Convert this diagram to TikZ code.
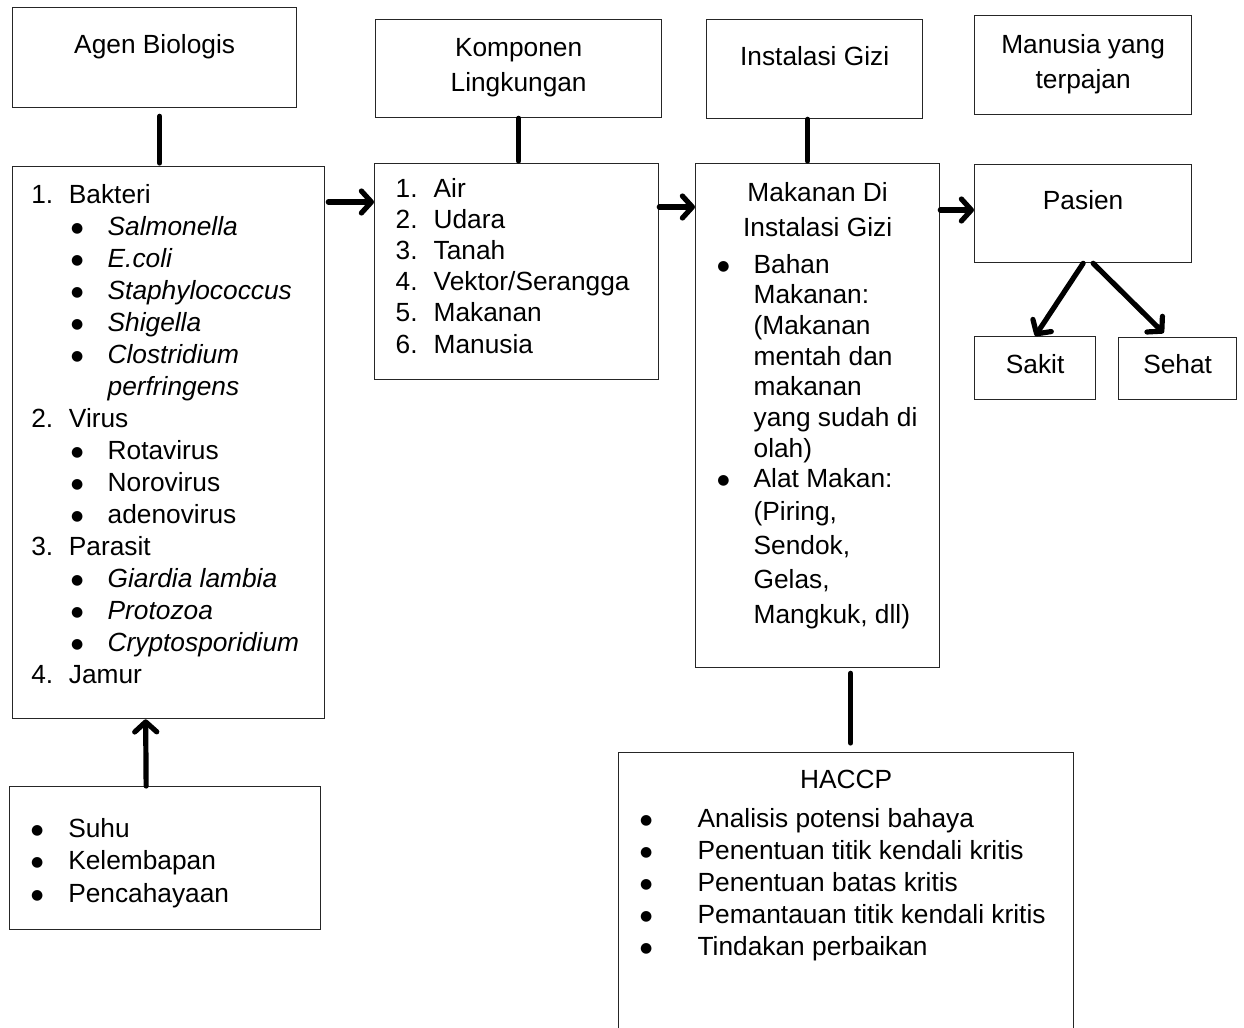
\documentclass[tikz,border=0pt]{standalone}
\usepackage{fontspec}
\setmainfont{Liberation Sans}
\newfontfamily\dotfont{DejaVu Sans}
\usepackage{tikz}
\usetikzlibrary{positioning,calc,arrows.meta}

% one list line: indent, label box width, label
\newcommand{\itm}[3]{\hspace*{#1}\makebox[#2][l]{#3}}
% list bullet
\newcommand{\bul}{\raisebox{1.5pt}{\dotfont\fontsize{7pt}{7pt}\selectfont ●}}
% box content: width, height, top gap, text
\newcommand{\boxtext}[4]{\parbox[c][#2][t]{#1}{\vspace*{#3}#4}}

\begin{document}
\begin{tikzpicture}[x=0.5pt,y=-0.5pt,
  box/.style={draw=black!85,line width=0.65pt,inner sep=0pt,anchor=north west,
    font=\fontsize{13.15pt}{16pt}\selectfont},
  link/.style={line width=2.6pt,line cap=round},
  arr/.style={link,-{Straight Barb[length=5pt,width=11pt,round]}}]
\useasboundingbox (0,0) rectangle (1244,1028);

% top row
\node[box] (agen) at (12,7) {\boxtext{142pt}{50pt}{11.5pt}{\centering\strut Agen Biologis}};
\node[box] (komponen) at (375,19) {\boxtext{143pt}{49pt}{7pt}{\centering\strut Komponen\\[1.5pt] Lingkungan}};
\node[box] (instalasi) at (706,19) {\boxtext{108pt}{49.5pt}{11.5pt}{\centering\strut Instalasi Gizi}};
\node[box] (manusia) at (974,15) {\boxtext{108.5pt}{49.5pt}{7.5pt}{\centering\strut Manusia yang\\[1.5pt] terpajan}};

% second row
\node[box] (bio) at (12,166) {\boxtext{156pt}{276pt}{7pt}{%
\strut\itm{9.35pt}{18.8pt}{1.}Bakteri\par
\itm{29.2pt}{18.3pt}{\bul}\textit{Salmonella}\par
\itm{29.2pt}{18.3pt}{\bul}\textit{E.coli}\par
\itm{29.2pt}{18.3pt}{\bul}\textit{Staphylococcus}\par
\itm{29.2pt}{18.3pt}{\bul}\textit{Shigella}\par
\itm{29.2pt}{18.3pt}{\bul}\textit{Clostridium}\par
\hspace*{47.5pt}\textit{perfringens}\par
\itm{9.35pt}{18.8pt}{2.}Virus\par
\itm{29.2pt}{18.3pt}{\bul}Rotavirus\par
\itm{29.2pt}{18.3pt}{\bul}Norovirus\par
\itm{29.2pt}{18.3pt}{\bul}adenovirus\par
\itm{9.35pt}{18.8pt}{3.}Parasit\par
\itm{29.2pt}{18.3pt}{\bul}\textit{Giardia lambia}\par
\itm{29.2pt}{18.3pt}{\bul}\textit{Protozoa}\par
\itm{29.2pt}{18.3pt}{\bul}\textit{Cryptosporidium}\par
\itm{9.35pt}{18.8pt}{4.}Jamur\par}};

\node[box] (ling) at (374,163) {\boxtext{142pt}{108pt}{5.8pt}{\fontsize{13.15pt}{15.6pt}\selectfont
\strut\itm{10.5pt}{19pt}{1.}Air\par
\itm{10.5pt}{19pt}{2.}Udara\par
\itm{10.5pt}{19pt}{3.}Tanah\par
\itm{10.5pt}{19pt}{4.}Vektor/Serangga\par
\itm{10.5pt}{19pt}{5.}Makanan\par
\itm{10.5pt}{19pt}{6.}Manusia\par}};

\node[box] (makanan) at (695,163) {\boxtext{122pt}{252pt}{7.95pt}{\fontsize{13.15pt}{15.35pt}\selectfont
{\centering\strut Makanan Di\\[2.15pt] Instalasi Gizi\par}
\vspace{3.15pt}
\itm{10.8pt}{18.2pt}{\bul}Bahan\par
\hspace*{29pt}Makanan:\par
\hspace*{29pt}(Makanan\par
\hspace*{29pt}mentah dan\par
\hspace*{29pt}makanan\par
\hspace*{29pt}yang sudah di\par
\hspace*{29pt}olah)\par
\itm{10.8pt}{18.2pt}{\bul}Alat Makan:\par
\vspace{1.15pt}\hspace*{29pt}(Piring,\par
\vspace{1.65pt}\hspace*{29pt}Sendok,\par
\vspace{1.65pt}\hspace*{29pt}Gelas,\par
\vspace{2.15pt}\hspace*{29pt}Mangkuk, dll)\par}};

\node[box] (pasien) at (974,164) {\boxtext{108.5pt}{49pt}{11pt}{\centering\strut Pasien}};
\node[box] (sakit) at (974,336) {\boxtext{60.5pt}{31.5pt}{7pt}{\centering\strut Sakit}};
\node[box] (sehat) at (1118,337) {\boxtext{59pt}{31pt}{6.5pt}{\centering\strut Sehat}};

% bottom row
\node[box] (faktor) at (9,786) {\boxtext{155.5pt}{71.5pt}{13.8pt}{\fontsize{13.15pt}{16.25pt}\selectfont
\strut\itm{10.7pt}{18.6pt}{\bul}Suhu\par
\itm{10.7pt}{18.6pt}{\bul}Kelembapan\par
\itm{10.7pt}{18.6pt}{\bul}Pencahayaan\par}};

\node[box] (haccp) at (618,752) {\boxtext{227.5pt}{150pt}{6.5pt}{%
{\centering\strut HACCP\par}
\vspace{3.5pt}
\itm{10.7pt}{28.8pt}{\bul}Analisis potensi bahaya\par
\itm{10.7pt}{28.8pt}{\bul}Penentuan titik kendali kritis\par
\itm{10.7pt}{28.8pt}{\bul}Penentuan batas kritis\par
\itm{10.7pt}{28.8pt}{\bul}Pemantauan titik kendali kritis\par
\itm{10.7pt}{28.8pt}{\bul}Tindakan perbaikan\par}};

% connectors
\draw[link] ($(agen.south)+(5,8)$) -- ($(bio.north)+(-9,-3)$);
\draw[link] (komponen.south) -- ($(komponen.south |- ling.north)+(0,-2)$);
\draw[link] ($(instalasi.south)+(-7,0)$) -- ($(makanan.north)+(-10,-2)$);
\draw[link] ($(makanan.south)+(33,5)$) -- ($(haccp.north)+(4.5,-9)$);

\draw[arr] ($(bio.north east)+(3,36)$) -- ($(ling.north west)+(0,39)$);
\draw[arr] ($(ling.north east)+(0,44)$) -- ($(makanan.north west)+(0,44)$);
\draw[arr] ($(makanan.north east)+(0,47)$) -- ($(pasien.north west)+(0,46)$);
\draw[arr] (pasien.south) -- (sakit.north);
\draw[arr] ($(pasien.south)+(10,0)$) -- ($(sehat.north)+(-14,-4)$);
\draw[arr] ($(faktor.north)+(-19,0)$) -- ($(bio.south)+(-23,0)$);
\end{tikzpicture}
\end{document}
